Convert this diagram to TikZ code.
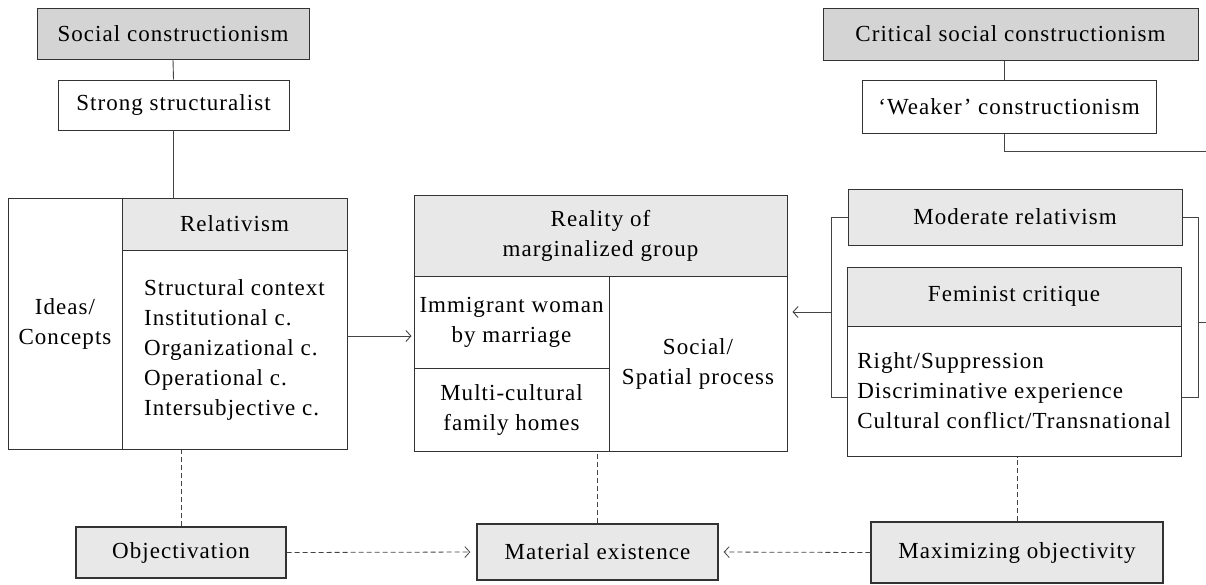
\documentclass[tikz,border=0pt]{standalone}
\usepackage{fontspec}
\setmainfont{Liberation Serif}[LetterSpace=4.5]
\usetikzlibrary{arrows.meta,calc}
\definecolor{darkfill}{HTML}{D4D4D4}
\definecolor{lightfill}{HTML}{E8E8E8}
\definecolor{edge}{HTML}{333333}
\definecolor{conn}{HTML}{444444}
\begin{document}
\begin{tikzpicture}[x=1pt,y=-1pt,
  font=\fontsize{23}{30}\selectfont,
  box/.style={draw=edge,line width=1pt,rectangle,inner sep=0pt,align=center},
  dbox/.style={box,fill=darkfill},
  lbox/.style={box,fill=lightfill},
  wbox/.style={box,fill=white},
  bbox/.style={box,fill=lightfill,line width=1.4pt},
  conline/.style={draw=conn,line width=0.9pt},
  dline/.style={draw=conn,line width=0.8pt,dash pattern=on 5pt off 3pt},
  tip/.style={-{Straight Barb[length=5pt,width=11pt]}}
]
\useasboundingbox (0,0) rectangle (1206,584);

% top left
\node[dbox,minimum width=272,minimum height=51] (sc) at (173,33.5) {Social constructionism};
\node[wbox,minimum width=231,minimum height=50] (ss) at (173.5,105) {Strong structuralist};

% top right
\node[dbox,minimum width=375,minimum height=52] (csc) at (1010.5,34) {Critical social constructionism};
\node[wbox,minimum width=294,minimum height=53] (wc) at (1009,106.5) {‘Weaker’ constructionism};

% left block
\node[wbox,minimum width=114,minimum height=251] (ideas) at (65,323.5) {Ideas/\\Concepts};
\node[lbox,minimum width=225,minimum height=52] (rel) at (234.5,224) {Relativism};
\node[wbox,minimum width=225,minimum height=199,align=left] (relbody) at (234.5,349.5)
  {Structural context\\Institutional c.\\Organizational c.\\Operational c.\\Intersubjective c.};

% middle block
\node[lbox,minimum width=373,minimum height=81] (real) at (600.5,235.5) {Reality of\\marginalized group};
\node[wbox,minimum width=195,minimum height=92] (imm) at (511.5,322) {Immigrant woman\\by marriage};
\node[wbox,minimum width=195,minimum height=83] (multi) at (511.5,409.5) {Multi-cultural\\family homes};
\node[wbox,minimum width=178,minimum height=175] (soc) at (698,363.5) {Social/\\Spatial process};

% right block
\node[lbox,minimum width=334,minimum height=56] (mod) at (1015,217) {Moderate relativism};
\node[lbox,minimum width=334,minimum height=59] (fem) at (1014,296.5) {Feminist critique};
\node[wbox,minimum width=334,minimum height=130,align=left] (fembody) at (1014,391)
  {Right/Suppression\\Discriminative experience\\Cultural conflict/Transnational};

% bottom row
\node[bbox,minimum width=210,minimum height=51] (obj) at (181,552.5) {Objectivation};
\node[bbox,minimum width=241,minimum height=56] (mat) at (597.5,552) {Material existence};
\node[bbox,minimum width=292,minimum height=61] (max) at (1017,552.5) {Maximizing objectivity};

% coordinates for connectors
\coordinate (wl) at (1004,0);
\coordinate (lb) at (831,397);
\coordinate (la) at (831,312);
\coordinate (rb) at (1198,397);
\coordinate (rs) at (1198,322);
\coordinate (ra) at (347,336);
\coordinate (edgeR) at (1214,151);

% solid connectors
\draw[conline] (sc.south) -- (ss.north);
\draw[conline] (ss.south) -- (ideas.north -| ss.south);
\draw[conline] (csc.south -| wl) -- (wc.north -| wl);
\draw[conline] (wc.south -| wl) |- (edgeR) |- (rs);
\draw[conline] (mod.west) -| (lb) -- (lb -| fembody.west);
\draw[conline] (mod.east) -| (rb) -- (rb -| fembody.east);
\draw[conline,tip,shorten >=5pt] (la) -- (la -| soc.east);
\draw[conline,tip,shorten >=2pt] (ra) -- (ra -| imm.west);

% dashed connectors
\draw[dline] (obj.north) -- (obj.north |- ideas.south);
\draw[dline] (mat.north) -- (mat.north |- multi.south);
\draw[dline] (max.north) -- (max.north |- fembody.south);
\draw[dline,tip,shorten >=6pt] (obj.east) -- (mat.west);
\draw[dline,tip,shorten >=5pt] (max.west) -- (mat.east);
\end{tikzpicture}
\end{document}
